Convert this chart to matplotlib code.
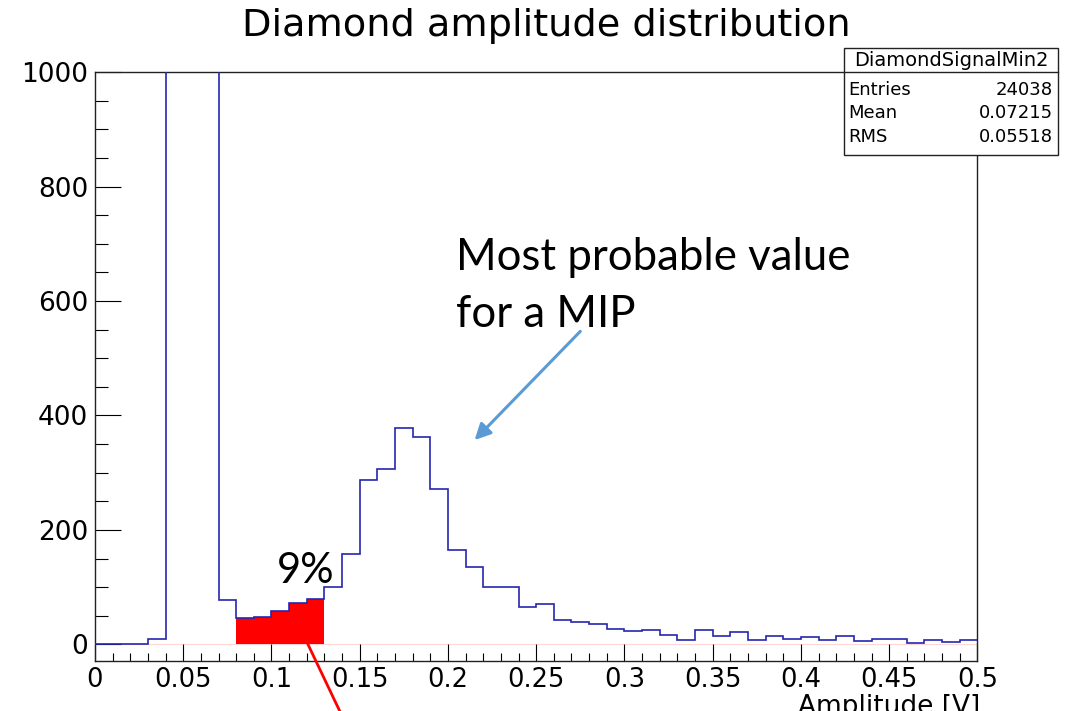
import numpy as np
import matplotlib
matplotlib.use('Agg')
import matplotlib.pyplot as plt
from matplotlib.ticker import MultipleLocator, FuncFormatter
from matplotlib.patches import Rectangle
from matplotlib.lines import Line2D

# histogram DiamondSignalMin2, 50 bins of 0.01 V between 0 and 0.5 V
bin_width = 0.01
n_bins = 50
counts = [0, 0, 1, 9, 7600, 9600, 3552, 78, 46, 48,
          58, 73, 79, 101, 158, 287, 306, 378, 362, 272,
          165, 136, 101, 101, 66, 70, 42, 40, 35, 27,
          23, 25, 17, 8, 25, 14, 22, 7, 14, 10,
          13, 7, 14, 6, 10, 9, 2, 8, 5, 8]
# bins filled in red (9% of the MIP signal)
shade_first = 8
shade_last = 12
stat_names = ['Entries', 'Mean', 'RMS']
stat_values = ['24038', '0.07215', '0.05518']
hist_name = 'DiamondSignalMin2'

edges = np.round(np.arange(n_bins + 1) * bin_width, 3)
counts = np.array(counts, dtype=float)

fig = plt.figure(figsize=(10.78, 7.11), dpi=100)
ax = fig.add_axes([0.0881, 0.0703, 0.9067 - 0.0881, 0.8987 - 0.0703])

hist_blue = '#2626b0'
ax.axhline(0, color='#ffd6d6', lw=0.8, zorder=1)
ax.stairs(counts[shade_first:shade_last + 1], edges[shade_first:shade_last + 2],
          fill=True, color='red', zorder=2)
ax.stairs(counts, edges, baseline=None, color=hist_blue, lw=1.2, zorder=3)

ax.set_xlim(0, 0.5)
ax.set_ylim(-29, 1000)

ax.xaxis.set_major_locator(MultipleLocator(0.05))
ax.xaxis.set_minor_locator(MultipleLocator(0.01))
ax.yaxis.set_major_locator(MultipleLocator(200))
ax.yaxis.set_minor_locator(MultipleLocator(50))
ax.xaxis.set_major_formatter(FuncFormatter(lambda v, p: '%g' % round(v, 3)))
ax.yaxis.set_major_formatter(FuncFormatter(lambda v, p: '%d' % v))

ax.tick_params(axis='x', which='major', direction='in', length=12.5, width=0.8,
               labelsize=18.5, pad=4, top=False)
ax.tick_params(axis='x', which='minor', direction='in', length=6, width=0.8, top=False)
ax.tick_params(axis='y', which='major', direction='in', length=19, width=0.8,
               labelsize=19, pad=5, right=False)
ax.tick_params(axis='y', which='minor', direction='in', length=9.5, width=0.8, right=False)
for lab in ax.get_xticklabels() + ax.get_yticklabels():
    lab.set_family('DejaVu Sans')
for sp in ax.spines.values():
    sp.set_linewidth(1.0)
    sp.set_color('#222222')

# title and axis label, ROOT style
fig.text(0.507, 1 - 36 / 711, 'Diamond amplitude distribution', ha='center',
         va='baseline', fontsize=27.5, family='DejaVu Sans')
fig.text(980 / 1078, 1 - 714 / 711, 'Amplitude [V]', ha='right', va='baseline',
         fontsize=19, family='DejaVu Sans')

# stats box
bx0, bx1 = 844 / 1078, 1058 / 1078
by0, by1 = 1 - 155 / 711, 1 - 48 / 711
fig.add_artist(Rectangle((bx0, by0), bx1 - bx0, by1 - by0, transform=fig.transFigure,
                         facecolor='white', edgecolor='#222222', lw=1.0, zorder=5))
fig.add_artist(Line2D([bx0, bx1], [1 - 72 / 711] * 2, transform=fig.transFigure,
                      color='#222222', lw=1.0, zorder=6))
fig.text((bx0 + bx1) / 2, 1 - 60 / 711, hist_name, ha='center', va='center',
         fontsize=14, family='DejaVu Sans', zorder=7)
row_y = [90, 113, 137]
for nm, val, yy in zip(stat_names, stat_values, row_y):
    fig.text(848 / 1078, 1 - yy / 711, nm, ha='left', va='center', fontsize=13,
             family='DejaVu Sans', zorder=7)
    fig.text(1053 / 1078, 1 - yy / 711, val, ha='right', va='center', fontsize=13,
             family='DejaVu Sans', zorder=7)

# slide annotations
ax.text(0.2047, 654, 'Most probable value', ha='left', va='baseline', fontsize=31.5,
        family='Lato', zorder=6)
ax.text(0.2047, 554, 'for a MIP', ha='left', va='baseline', fontsize=31.5,
        family='Lato', zorder=6)
ax.annotate('', xy=(0.2151, 357), xytext=(0.275, 547),
            arrowprops=dict(arrowstyle='-|>', color='#5b9bd5', lw=2.2,
                            mutation_scale=24, shrinkA=0, shrinkB=0), zorder=6)
ax.text(0.103, 108, '9%', ha='left', va='baseline', fontsize=30, family='Lato', zorder=6)
ax.plot([0.1207, 0.1400], [0, -125], color='red', lw=2.0, clip_on=False, zorder=6)

fig.savefig('out.png', dpi=100)
